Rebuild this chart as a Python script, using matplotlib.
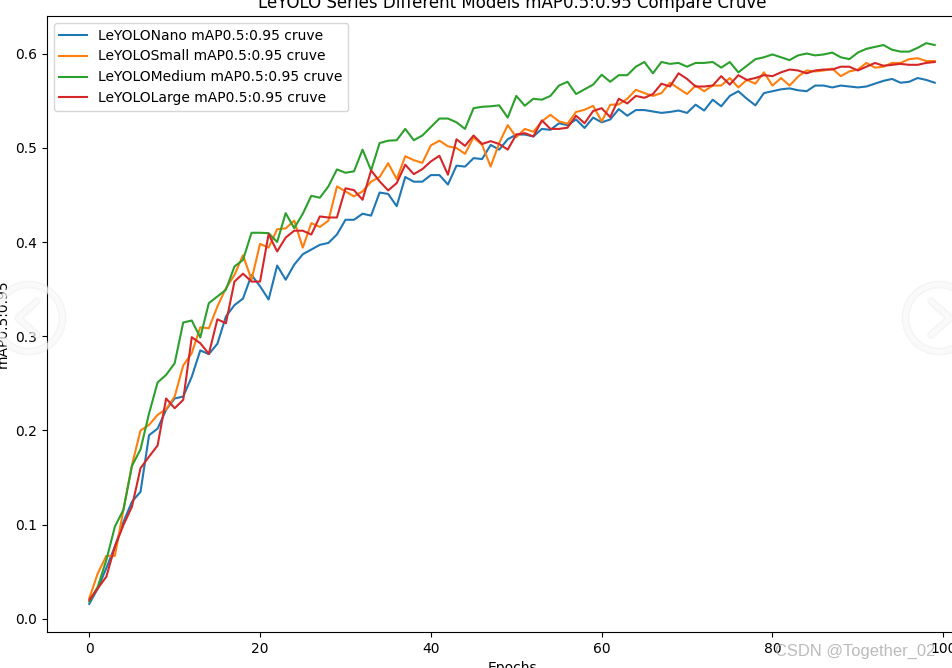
import matplotlib
matplotlib.use('Agg')
import matplotlib.pyplot as plt
from matplotlib.patches import Circle
from matplotlib.lines import Line2D

nano = [.016, .0325, .054, .077, .103, .1245, .135, .195, .202, .222, .234, .236, .257, .285, .281, .292, .321, .333, .34, .365,
        .353, .339, .375, .36, .376, .387, .392, .397, .399, .408, .4236, .4236, .43, .428, .4525, .451, .438, .469, .464, .464,
        .471, .471, .461, .481, .48, .489, .488, .503, .498, .509, .514, .514, .512, .52, .519, .526, .524, .53, .521, .532,
        .527, .53, .541, .534, .54, .54, .5385, .537, .538, .5395, .537, .5457, .5395, .551, .544, .555, .56, .552, .545, .558,
        .56, .562, .563, .561, .56, .566, .566, .564, .566, .565, .564, .565, .568, .571, .573, .569, .57, .574, .572, .569]
small = [.022, .0485, .067, .067, .116, .1635, .2, .206, .2166, .2226, .236, .269, .282, .3095, .3085, .3315, .351, .365, .386, .36,
         .398, .394, .4135, .4145, .4226, .394, .42, .416, .4226, .459, .4537, .4484, .4537, .464, .469, .4836, .4667, .491, .4868, .484,
         .5025, .5075, .5015, .4997, .4936, .511, .503, .48, .505, .524, .5113, .52, .517, .528, .535, .528, .5255, .538, .5403, .5445,
         .528, .5456, .546, .552, .5615, .558, .555, .558, .569, .563, .557, .566, .56, .566, .566, .574, .564, .572, .568, .58,
         .566, .574, .566, .5755, .582, .581, .582, .584, .576, .581, .583, .59, .585, .586, .59, .59, .594, .595, .592, .592]
medium = [.0184, .0343, .0626, .098, .116, .1624, .18, .218, .251, .259, .2714, .3146, .3167, .2987, .3351, .3422, .3493, .374, .381, .4098,
          .4098, .4094, .4, .4306, .4147, .43, .449, .447, .459, .477, .4735, .475, .498, .476, .505, .5075, .508, .52, .508, .513,
          .522, .531, .531, .527, .52, .542, .5435, .544, .545, .532, .555, .5446, .552, .551, .555, .566, .57, .557, .562, .567,
          .5775, .57, .577, .577, .586, .591, .579, .591, .589, .59, .586, .59, .59, .591, .585, .591, .58, .587, .594, .596,
          .599, .596, .593, .598, .6, .598, .599, .601, .596, .594, .601, .605, .607, .609, .604, .602, .602, .606, .611, .609]
large = [.0202, .0325, .0449, .0767, .0997, .1192, .16, .1723, .1841, .234, .2236, .2325, .299, .2926, .2813, .318, .3138, .358, .3664, .358,
         .358, .4083, .39, .4047, .412, .412, .4079, .4271, .426, .426, .457, .455, .4448, .476, .4643, .4547, .4625, .482, .472, .4773,
         .4855, .4915, .4714, .509, .502, .513, .504, .507, .504, .498, .514, .5155, .512, .529, .52, .52, .5213, .534, .526, .539,
         .542, .5325, .552, .547, .555, .553, .557, .568, .565, .579, .573, .565, .565, .566, .576, .567, .577, .572, .574, .577,
         .576, .58, .583, .582, .579, .582, .583, .583, .586, .586, .582, .586, .59, .587, .588, .589, .588, .588, .59, .591]
epochs = list(range(len(nano)))

W, H = 953, 668
fig = plt.figure(figsize=(W / 100, H / 100), dpi=100)
# axes run off the right edge, the screenshot was cropped
ax = fig.add_axes([47 / W, (H - 632) / H, 930 / W, 616 / H])

ax.plot(epochs, nano, label='LeYOLONano mAP0.5:0.95 cruve')
ax.plot(epochs, small, label='LeYOLOSmall mAP0.5:0.95 cruve')
ax.plot(epochs, medium, label='LeYOLOMedium mAP0.5:0.95 cruve')
ax.plot(epochs, large, label='LeYOLOLarge mAP0.5:0.95 cruve')

ax.set_xlim(-4.95, 103.95)
ax.set_ylim(-0.0138, 0.6398)
ax.set_xticks([0, 20, 40, 60, 80, 100])
ax.set_xlabel('Epochs')
ax.set_ylabel('mAP0.5:0.95')
ax.set_title('LeYOLO Series Different Models mAP0.5:0.95 Compare Cruve')
ax.legend(loc='upper left')

# page overlays: gallery arrows and the CSDN watermark
for cx, d in [(29, 1), (939, -1)]:
    cy = H - 318
    fig.add_artist(Circle((cx, cy), 33.5, transform=None, fill=False, ec='#e4e4e4', lw=5.5, alpha=0.4))
    fig.add_artist(Circle((cx, cy), 33.5, transform=None, fill=False, ec='white', lw=3.5, alpha=0.55))
    xs = [cx + 8 * d, cx - 11 * d, cx + 8 * d]
    ys = [cy + 17, cy, cy - 17]
    fig.add_artist(Line2D(xs, ys, transform=None, color='#e4e4e4', lw=5.5, alpha=0.4,
                          solid_capstyle='round', solid_joinstyle='round'))
    fig.add_artist(Line2D(xs, ys, transform=None, color='white', lw=3.5, alpha=0.55,
                          solid_capstyle='round', solid_joinstyle='round'))

fig.text(775 / W, (H - 656) / H, 'CSDN @Together_02', color='#aaaaaa', alpha=0.8, fontsize=11.9,
         family='Liberation Sans')

fig.savefig('out.png', dpi=100)
